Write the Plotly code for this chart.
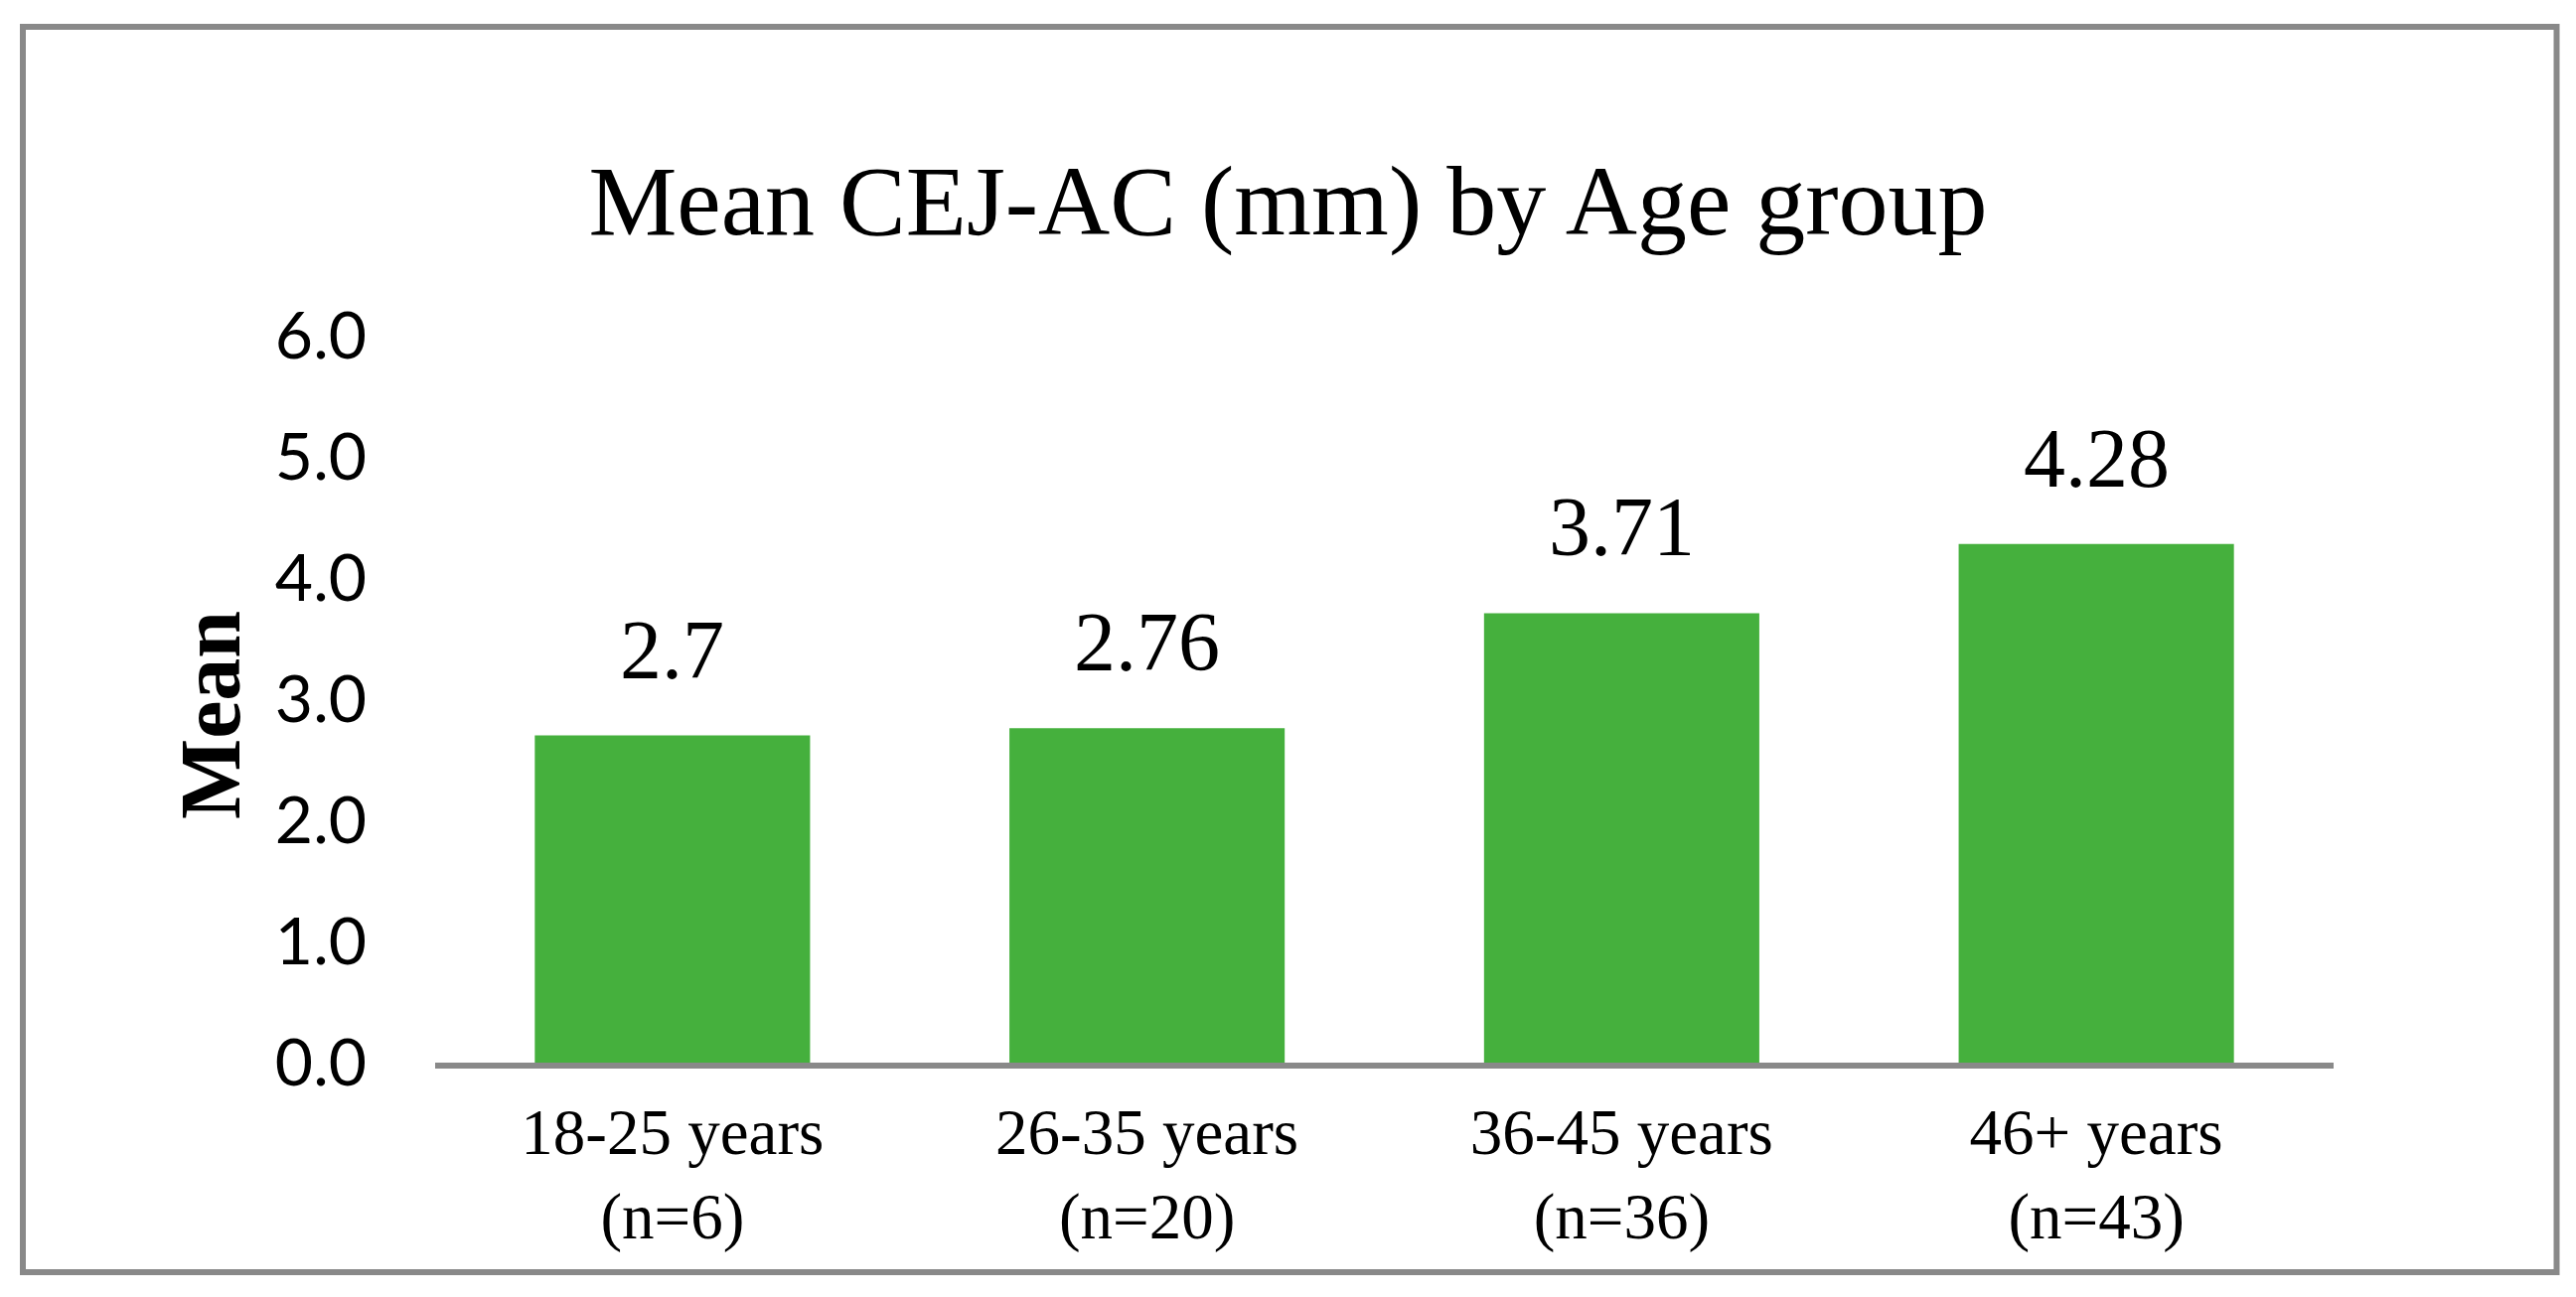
import plotly.graph_objects as go

categories = ["18-25 years<br>(n=6)", "26-35 years<br>(n=20)", "36-45 years<br>(n=36)", "46+ years<br>(n=43)"]
means = [2.7, 2.76, 3.71, 4.28]
labels = ["2.7", "2.76", "3.71", "4.28"]
y_ticks = [0, 1, 2, 3, 4, 5, 6]
y_tick_text = ["0.0", "1.0", "2.0", "3.0", "4.0", "5.0", "6.0"]

W, H = 2593, 1306
L, R, T, B = 438, 244, 338, 236
SERIF = "Liberation Serif, Times New Roman, serif"
GREEN = "#45B03D"
GRAY = "#898989"

fig = go.Figure()
fig.add_trace(go.Bar(x=categories, y=means, marker=dict(color=GREEN, line=dict(width=0)),
                     hoverinfo="skip", showlegend=False))

for c, v, t in zip(categories, means, labels):
    fig.add_annotation(x=c, y=v, text=t, showarrow=False, xref="x", yref="y",
                       yanchor="bottom", yshift=38,
                       font=dict(family=SERIF, size=84, color="black"))

pw = W - L - R
ph = H - T - B
def px2x(p):
    return (p - L) / pw
def py2y(p):
    return (H - B - p) / ph

fig.add_shape(type="rect", xref="paper", yref="paper",
              x0=px2x(23), x1=px2x(2573.5), y0=py2y(1281), y1=py2y(27),
              line=dict(color=GRAY, width=6), fillcolor="rgba(0,0,0,0)", layer="below")

# y-axis title
fig.add_annotation(text="<b>Mean</b>", xref="paper", yref="paper",
                   x=px2x(212), y=py2y(720), xanchor="center", yanchor="middle",
                   textangle=-90, showarrow=False,
                   font=dict(family=SERIF, size=86, color="black"))

fig.update_layout(
    width=W, height=H,
    margin=dict(l=L, r=R, t=T, b=B, autoexpand=False),
    paper_bgcolor="white", plot_bgcolor="white",
    bargap=0.42,
    title=dict(text="Mean CEJ-AC (mm) by Age group", x=0.5, xref="container", xanchor="center",
               y=1 - 201 / H, yref="container", yanchor="middle",
               font=dict(family=SERIF, size=100, color="black")),
    xaxis=dict(showline=True, linecolor=GRAY, linewidth=6, showgrid=False, zeroline=False,
               ticks="", tickfont=dict(family=SERIF, size=65, color="black"),
               ticklabelstandoff=8, automargin=False, range=[-0.5, 3.5]),
    yaxis=dict(range=[0, 6], tickvals=y_ticks, ticktext=y_tick_text, showgrid=False,
               zeroline=False, showline=False, ticks="",
               tickfont=dict(family="Lato, Open Sans, sans-serif", size=66, color="black"),
               ticklabelstandoff=68, automargin=False),
)

fig.write_html("out.html", config={"displayModeBar": False},
               post_script="document.body.style.margin='0';")
